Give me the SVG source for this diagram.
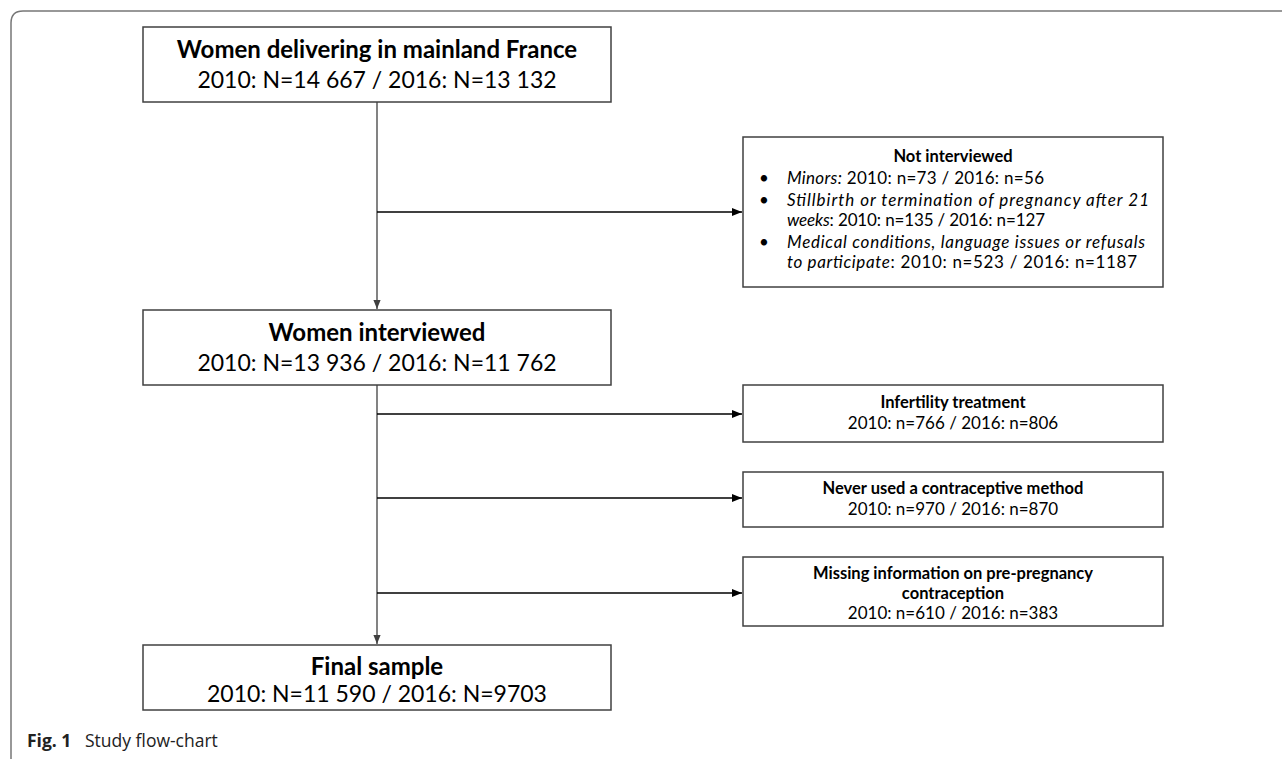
<svg xmlns="http://www.w3.org/2000/svg" width="1282" height="759" viewBox="0 0 1282 759">
<defs>
<marker id="ah" viewBox="0 0 10 10" refX="10" refY="5" markerWidth="10" markerHeight="10" markerUnits="userSpaceOnUse" orient="auto">
<path d="M0,1 L10,5 L0,9 z" fill="#000"/>
</marker>
<marker id="ahg" viewBox="0 0 10 10" refX="10" refY="5" markerWidth="9" markerHeight="9" markerUnits="userSpaceOnUse" orient="auto">
<path d="M0,1 L10,5 L0,9 z" fill="#404040"/>
</marker>
</defs>
<style>
.box{fill:#fff;stroke:#404040;stroke-width:1.5}
.t{font-family:Lato,"Liberation Sans",sans-serif;fill:#000}
.bigb{font-size:24px;font-weight:bold}
.big{font-size:23px}
.sm{font-size:17px}
.smb{font-size:16.5px;font-weight:bold}
.i{font-style:italic}
.v{stroke:#404040;stroke-width:1.3;fill:none}
.h{stroke:#000;stroke-width:1.3;fill:none}
.cap{font-family:"Open Sans","Liberation Sans",sans-serif;font-size:17.5px;fill:#222}
</style>
<rect width="1282" height="759" fill="#fff"/>
<path d="M11,762 L11,23 Q11,11 23,11 L1285,11" fill="none" stroke="#777" stroke-width="1.5"/>

<g id="connectors">
<line class="v" x1="377" y1="102" x2="377" y2="309" marker-end="url(#ahg)"/>
<line class="v" x1="377" y1="385" x2="377" y2="644" marker-end="url(#ahg)"/>
<line class="h" x1="377" y1="212" x2="742" y2="212" marker-end="url(#ah)"/>
<line class="h" x1="377" y1="414" x2="742" y2="414" marker-end="url(#ah)"/>
<line class="h" x1="377" y1="498" x2="742" y2="498" marker-end="url(#ah)"/>
<line class="h" x1="377" y1="593" x2="742" y2="593" marker-end="url(#ah)"/>
</g>

<g id="n1">
<rect class="box" x="143" y="27" width="468" height="75"/>
<text class="t bigb" x="377" y="58" text-anchor="middle">Women delivering in mainland France</text>
<text class="t big" x="377" y="88" text-anchor="middle">2010: N=14 667 / 2016: N=13 132</text>
</g>

<g id="n2">
<rect class="box" x="743" y="137" width="420" height="150"/>
<text class="t smb" x="953" y="162" text-anchor="middle">Not interviewed</text>
<text class="t sm" x="759" y="184">•</text>
<text class="t sm" x="787" y="184" textLength="257" lengthAdjust="spacing"><tspan class="i">Minors:</tspan> 2010: n=73 / 2016: n=56</text>
<text class="t sm" x="759" y="206">•</text>
<text class="t sm" x="787" y="206" textLength="362" lengthAdjust="spacing"><tspan class="i">Stillbirth or termination of pregnancy after 21</tspan></text>
<text class="t sm" x="787" y="226" textLength="258" lengthAdjust="spacing"><tspan class="i">weeks</tspan>: 2010: n=135 / 2016: n=127</text>
<text class="t sm" x="759" y="248">•</text>
<text class="t sm" x="787" y="248" textLength="358" lengthAdjust="spacing"><tspan class="i">Medical conditions, language issues or refusals</tspan></text>
<text class="t sm" x="787" y="268" textLength="350" lengthAdjust="spacing"><tspan class="i">to participate</tspan>: 2010: n=523 / 2016: n=1187</text>
</g>

<g id="n3">
<rect class="box" x="143" y="310" width="468" height="75"/>
<text class="t bigb" x="377" y="341" text-anchor="middle">Women interviewed</text>
<text class="t big" x="377" y="371" text-anchor="middle">2010: N=13 936 / 2016: N=11 762</text>
</g>

<g id="n4">
<rect class="box" x="743" y="385" width="420" height="57"/>
<text class="t smb" x="953" y="408" text-anchor="middle">Infertility treatment</text>
<text class="t sm" x="953" y="429" text-anchor="middle">2010: n=766 / 2016: n=806</text>
</g>

<g id="n5">
<rect class="box" x="743" y="472" width="420" height="55"/>
<text class="t smb" x="953" y="494" text-anchor="middle">Never used a contraceptive method</text>
<text class="t sm" x="953" y="515" text-anchor="middle">2010: n=970 / 2016: n=870</text>
</g>

<g id="n6">
<rect class="box" x="743" y="557" width="420" height="69"/>
<text class="t smb" x="953" y="579" text-anchor="middle">Missing information on pre-pregnancy</text>
<text class="t smb" x="953" y="599" text-anchor="middle">contraception</text>
<text class="t sm" x="953" y="619" text-anchor="middle">2010: n=610 / 2016: n=383</text>
</g>

<g id="n7">
<rect class="box" x="143" y="645" width="468" height="65"/>
<text class="t bigb" x="377" y="675" text-anchor="middle">Final sample</text>
<text class="t big" x="377" y="702" text-anchor="middle">2010: N=11 590 / 2016: N=9703</text>
</g>

<text class="cap" x="27" y="747"><tspan font-weight="bold">Fig. 1</tspan><tspan x="85">Study flow-chart</tspan></text>
</svg>
